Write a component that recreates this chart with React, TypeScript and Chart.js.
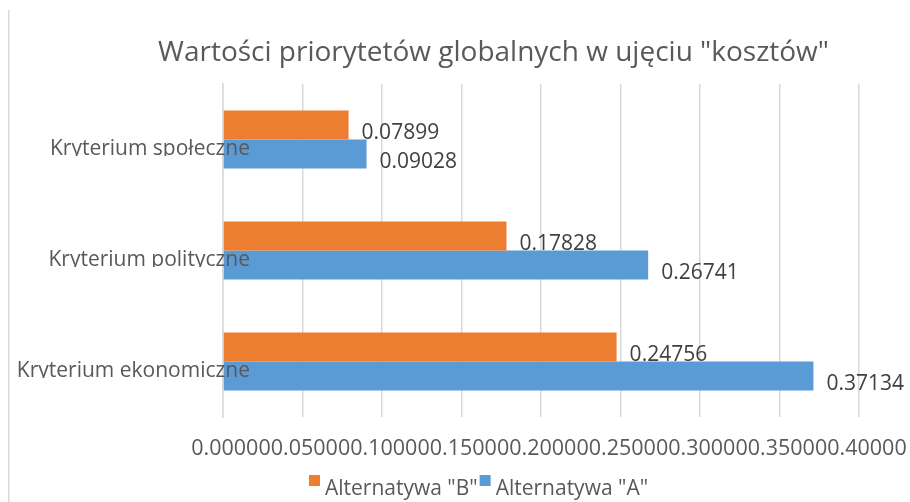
import React, { useEffect, useRef } from "react";
import { Chart, registerables } from "chart.js";

Chart.register(...registerables);

const categories = ["Kryterium społeczne", "Kryterium polityczne", "Kryterium ekonomiczne"];
const seriesB = [0.07899, 0.17828, 0.24756];
const seriesA = [0.09028, 0.26741, 0.37134];
const seriesNames = ['Alternatywa "B"', 'Alternatywa "A"'];
const seriesColors = ["#ED7D31", "#5B9BD5"];
const chartTitle = 'Wartości priorytetów globalnych w ujęciu "kosztów"';
const xMin = 0;
const xMax = 0.4;
const xStep = 0.05;

const FONT = "'Open Sans', sans-serif";
const GRID = "#d9d9d9";
const TEXT = "#595959";

const framePlugin = {
  id: "frame",
  beforeDraw(chart: any) {
    const ctx = chart.ctx;
    ctx.save();
    ctx.fillStyle = GRID;
    ctx.fillRect(0, 2, 1.5, chart.height);
    ctx.restore();
  },
};

const shiftPlugin = {
  id: "shiftBlocks",
  afterLayout(chart: any) {
    const t = chart.titleBlock;
    if (t) {
      const c = (t.left + t.right) / 2;
      const d = 485.5 - c;
      t.left += d;
      t.right += d;
    }
  },
};

const legendPlugin = {
  id: "customLegend",
  afterDraw(chart: any) {
    const ctx = chart.ctx;
    ctx.save();
    ctx.font = `21px ${FONT}`;
    const box = 11;
    const gapText = 5;
    const gapItem = 2;
    const widths = seriesNames.map((n) => ctx.measureText(n).width);
    const total = widths.reduce((a, w) => a + box + gapText + w, 0) + gapItem * (seriesNames.length - 1);
    let x = 470.5 - total / 2;
    const baseline = chart.height - 7.5;
    ctx.textAlign = "left";
    ctx.textBaseline = "alphabetic";
    seriesNames.forEach((n, i) => {
      ctx.fillStyle = seriesColors[i];
      ctx.fillRect(x, baseline - 19.5, box, box);
      ctx.fillStyle = TEXT;
      ctx.fillText(n, x + box + gapText, baseline);
      x += box + gapText + widths[i] + gapItem;
    });
    ctx.restore();
  },
};

const yLabelPlugin = {
  id: "yLabels",
  afterDatasetsDraw(chart: any) {
    const ctx = chart.ctx;
    const y = chart.scales.y;
    ctx.save();
    ctx.font = `21px ${FONT}`;
    ctx.fillStyle = TEXT;
    ctx.textAlign = "right";
    ctx.textBaseline = "alphabetic";
    categories.forEach((c, i) => {
      const cy = y.getPixelForTick(i);
      ctx.save();
      ctx.beginPath();
      ctx.rect(0, cy - 40, chart.width, 40 + 16.5);
      ctx.clip();
      ctx.fillText(c, 242, cy + 15.5);
      ctx.restore();
    });
    ctx.restore();
  },
};

const dataLabelPlugin = {
  id: "dataLabels",
  afterDatasetsDraw(chart: any) {
    const ctx = chart.ctx;
    ctx.save();
    ctx.font = `21px ${FONT}`;
    ctx.fillStyle = "#404040";
    ctx.textAlign = "left";
    ctx.textBaseline = "middle";
    chart.data.datasets.forEach((ds: any, di: number) => {
      const meta = chart.getDatasetMeta(di);
      meta.data.forEach((el: any, i: number) => {
        const v = ds.data[i] as number;
        ctx.fillText(v.toFixed(5), el.x + 13, el.y + 8);
      });
    });
    ctx.restore();
  },
};

export default function App() {
  const ref = useRef<HTMLCanvasElement>(null);
  useEffect(() => {
    if (!ref.current) return;
    const chart = new Chart(ref.current, {
      type: "bar",
      data: {
        labels: categories,
        datasets: [
          { label: seriesNames[0], data: seriesB, backgroundColor: seriesColors[0], categoryPercentage: 0.523, barPercentage: 1 },
          { label: seriesNames[1], data: seriesA, backgroundColor: seriesColors[1], categoryPercentage: 0.523, barPercentage: 1 },
        ],
      },
      options: {
        indexAxis: "y",
        animation: false,
        responsive: false,
        devicePixelRatio: 1,
        layout: { padding: { left: 0, right: 51, top: 0, bottom: 0 } },
        scales: {
          x: {
            min: xMin,
            max: xMax,
            grid: { color: GRID, lineWidth: 1.5, drawTicks: false },
            border: { display: false },
            ticks: {
              stepSize: xStep,
              autoSkip: false,
              maxRotation: 0,
              minRotation: 0,
              padding: 19,
              labelOffset: 8,
              color: TEXT,
              font: { family: FONT, size: 21.5 },
              callback: (v: any) => Number(v).toFixed(5),
            },
            afterFit: (s: any) => {
              s.height = 85;
              s.paddingLeft = 0;
              s.paddingRight = 0;
            },
          },
          y: {
            grid: { display: false, drawTicks: false },
            border: { display: true, color: GRID, width: 1.5 },
            ticks: { display: false },
            afterFit: (s: any) => { s.width = 215; },
          },
        },
        plugins: {
          title: {
            display: true,
            text: chartTitle,
            color: TEXT,
            font: { family: FONT, size: 28, weight: "normal" },
            padding: { top: 28.2, bottom: 14.2 },
          },
          legend: { display: false },
          tooltip: { enabled: false },
        },
      },
      plugins: [framePlugin, shiftPlugin, yLabelPlugin, dataLabelPlugin, legendPlugin],
    });
    return () => chart.destroy();
  }, []);
  return (
    <div style={{ position: "fixed", left: 8, top: 8, width: 902, height: 494, overflow: "hidden" }}>
      <canvas ref={ref} width={902} height={494} style={{ display: "block" }} />
    </div>
  );
}
